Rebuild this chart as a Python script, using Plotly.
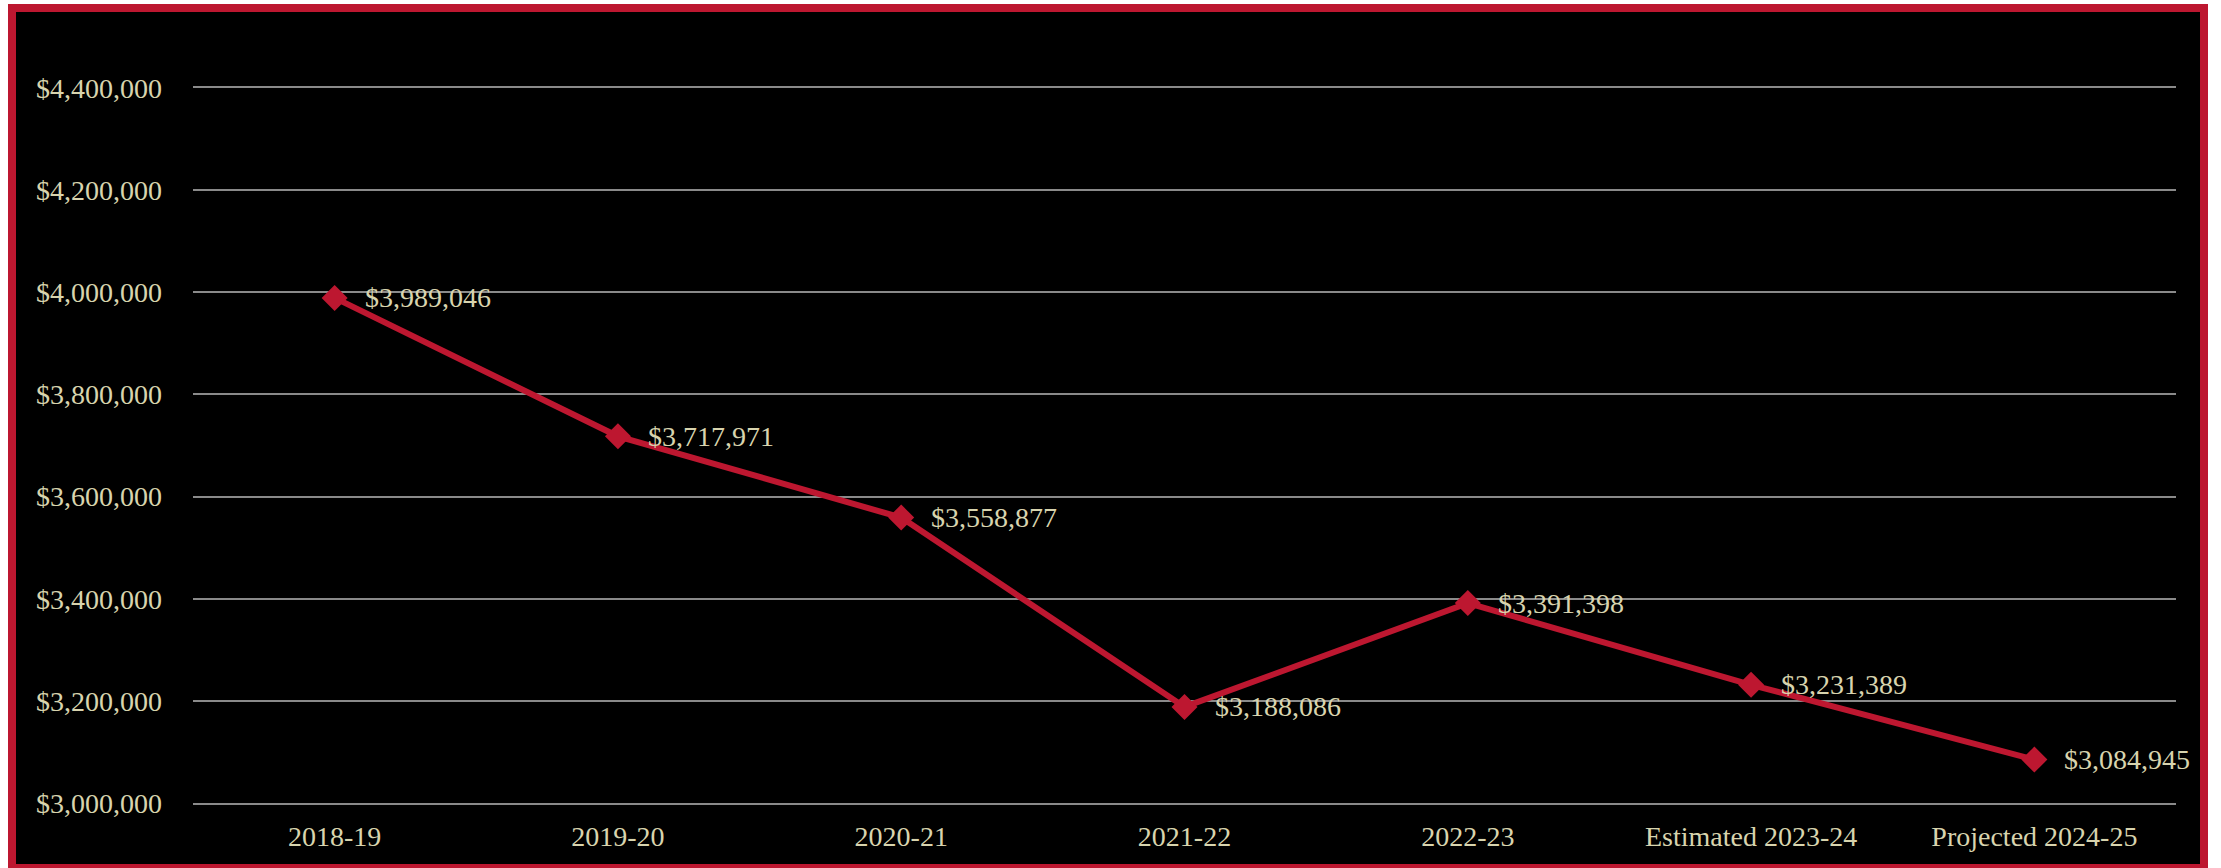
import plotly.graph_objects as go

categories = ["2018-19", "2019-20", "2020-21", "2021-22", "2022-23",
              "Estimated 2023-24", "Projected 2024-25"]
values = [3989046, 3717971, 3558877, 3188086, 3391398, 3231389, 3084945]
y_min, y_max, y_step = 3000000, 4400000, 200000

W, H = 2221, 868
ML, MR, MT, MB = 193, 45, 88, 65
PW, PH = W - ML - MR, H - MT - MB

RED = "#bd1730"
TXT = "#d8d4ae"
GRID = "#8a8a8a"
FONT = "Liberation Serif"
FS = 28

def px_x(p):
    return (p - ML) / PW

def px_y(p):
    return (H - MB - p) / PH

fig = go.Figure()
fig.add_trace(go.Scatter(
    x=categories, y=values, mode="lines+markers",
    line=dict(color=RED, width=6),
    marker=dict(symbol="diamond", size=20, color=RED),
    hoverinfo="skip", showlegend=False, cliponaxis=False,
))

for c, v in zip(categories, values):
    fig.add_annotation(x=c, y=v, text=f"${v:,.0f}", showarrow=False,
                       xanchor="left", yanchor="middle", xshift=28, yshift=0,
                       font=dict(family=FONT, size=FS, color=TXT))

fig.add_shape(type="rect", xref="paper", yref="paper", layer="below",
              x0=px_x(12), x1=px_x(2204), y0=px_y(8), y1=px_y(868),
              line=dict(color=RED, width=8), fillcolor="black")

fig.update_layout(
    template="none",
    width=W, height=H,
    margin=dict(l=ML, r=MR, t=MT, b=MB, pad=0),
    paper_bgcolor="white", plot_bgcolor="rgba(0,0,0,0)",
    font=dict(family=FONT, size=FS, color=TXT),
    xaxis=dict(type="category", range=[-0.5, len(categories) - 0.5],
               automargin=False,
               showgrid=False, zeroline=False, ticks="",
               showline=True, mirror=True, linecolor=GRID, linewidth=2,
               ticklabelstandoff=7,
               tickfont=dict(family=FONT, size=FS, color=TXT)),
    yaxis=dict(range=[y_min, y_max], tick0=y_min, dtick=y_step,
               automargin=False,
               tickformat="$,.0f", showgrid=True, gridcolor=GRID,
               gridwidth=2, zeroline=False, showline=False, ticks="",
               ticklabelstandoff=30,
               tickfont=dict(family=FONT, size=FS, color=TXT)),
)

fig.write_html("out.html", config={"displayModeBar": False})
